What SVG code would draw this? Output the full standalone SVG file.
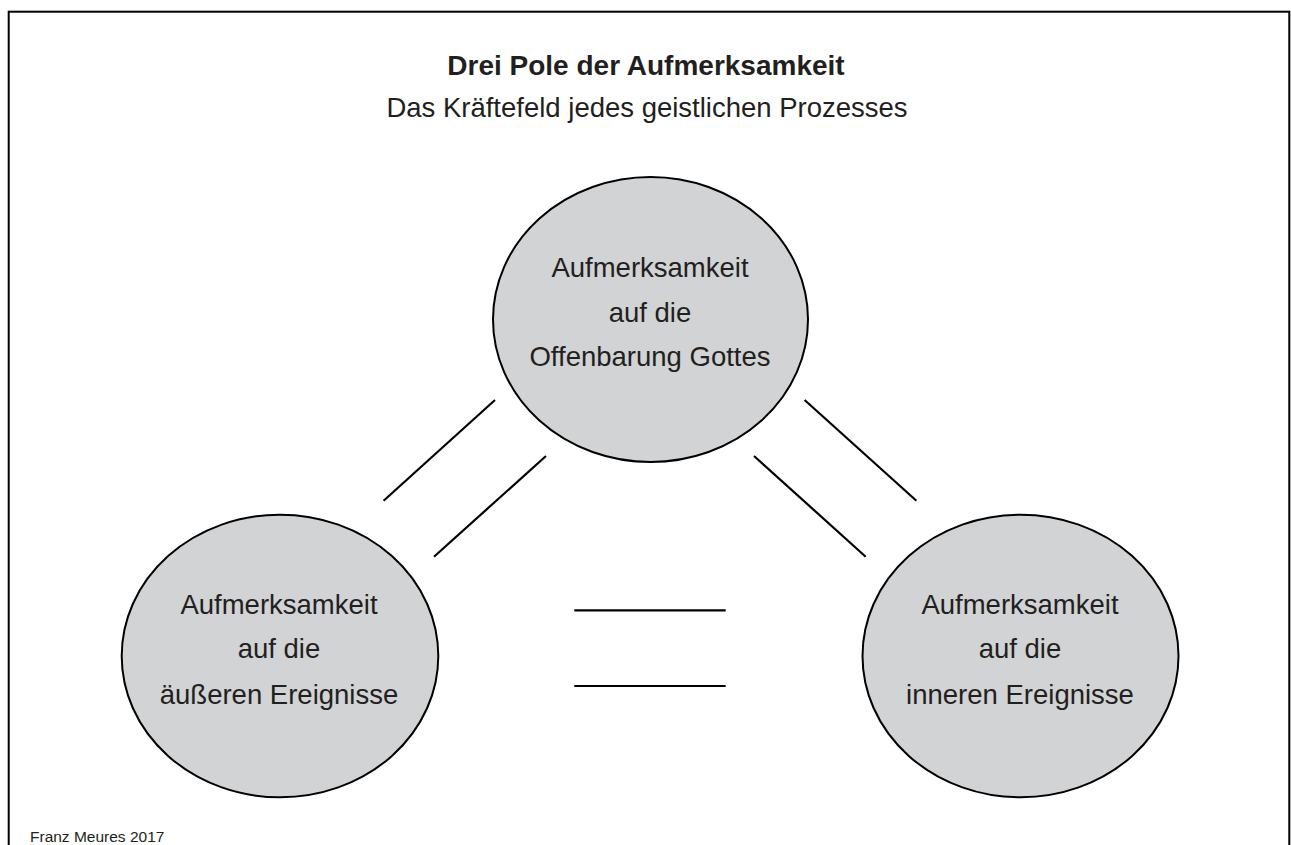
<svg xmlns="http://www.w3.org/2000/svg" width="1291" height="845" viewBox="0 0 1291 845">
  <style>
    .frame { fill: none; stroke: #000; stroke-width: 2; }
    .pole { fill: #d1d3d4; stroke: #000; stroke-width: 2; }
    .lbl { font-family: "Liberation Sans", Arial, sans-serif; font-size: 27.5px; fill: #231f20; text-anchor: middle; }
    .title { font-family: "Liberation Sans", Arial, sans-serif; font-size: 28px; font-weight: bold; fill: #231f20; text-anchor: middle; }
    .sub { font-family: "Liberation Sans", Arial, sans-serif; font-size: 27.5px; fill: #231f20; text-anchor: middle; }
    .foot { font-family: "Liberation Sans", Arial, sans-serif; font-size: 15.5px; fill: #231f20; }
    .conn line { stroke: #000; stroke-width: 2.2; }
  </style>
  <rect width="1291" height="845" fill="#fff"/>
  <rect class="frame" x="8.7" y="11.7" width="1280.6" height="900"/>
  <g id="title">
    <text class="title" x="646" y="75">Drei Pole der Aufmerksamkeit</text>
    <text class="sub" x="647" y="117">Das Kräftefeld jedes geistlichen Prozesses</text>
  </g>
  <g id="connectors" class="conn">
    <line x1="495" y1="400" x2="383.6" y2="500.7"/>
    <line x1="546" y1="456" x2="434" y2="556.7"/>
    <line x1="804.6" y1="400" x2="916.4" y2="500.7"/>
    <line x1="754" y1="456" x2="865.7" y2="556.7"/>
    <line x1="574.3" y1="610.3" x2="725.7" y2="610.3"/>
    <line x1="574.3" y1="686" x2="725.7" y2="686"/>
  </g>
  <g id="pole-gott">
    <ellipse class="pole" cx="650.5" cy="319.5" rx="157.5" ry="142.5"/>
    <text class="lbl" x="650" y="277">Aufmerksamkeit</text>
    <text class="lbl" x="650" y="321.5">auf die</text>
    <text class="lbl" x="650" y="366">Offenbarung Gottes</text>
  </g>
  <g id="pole-aussen">
    <ellipse class="pole" cx="280" cy="656" rx="158.3" ry="141.3"/>
    <text class="lbl" x="279" y="613.5">Aufmerksamkeit</text>
    <text class="lbl" x="279" y="657.5">auf die</text>
    <text class="lbl" x="279" y="703.5">äußeren Ereignisse</text>
  </g>
  <g id="pole-innen">
    <ellipse class="pole" cx="1020.5" cy="656" rx="158" ry="141.3"/>
    <text class="lbl" x="1020" y="613.5">Aufmerksamkeit</text>
    <text class="lbl" x="1020" y="657.5">auf die</text>
    <text class="lbl" x="1020" y="703.5">inneren Ereignisse</text>
  </g>
  <text class="foot" x="30" y="842">Franz Meures 2017</text>
</svg>
